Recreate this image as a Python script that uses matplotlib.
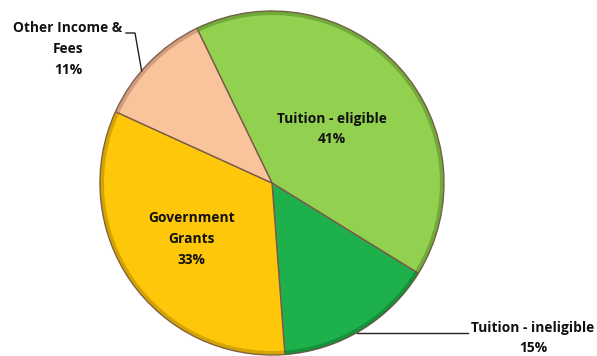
import numpy as np
import matplotlib.pyplot as plt

# revenue split, clockwise from the top-left
labels = ["Tuition - eligible", "Tuition - ineligible", "Government\nGrants", "Other Income &\nFees"]
shares = [41, 15, 33, 11]
colors = ["#92D050", "#1EB14B", "#FFC709", "#F9C49C"]
edges = ["#4E7A22", "#0E6A2A", "#A07A00", "#A0705A"]

W, H = 597, 356
cx, cy, R = 272, 173, 172
start = 115.9

fig = plt.figure(figsize=(W/100, H/100), dpi=100)
ax = fig.add_axes([0, 0, 1, 1])

wedges, _ = ax.pie(shares, colors=colors, startangle=start, counterclock=False,
                   radius=R, center=(cx, cy), frame=True,
                   wedgeprops=dict(linewidth=1.0, edgecolor="#7A5A4A"))

# darker rim for the bevelled look
for w, ec in zip(wedges, edges):
    ax.add_patch(plt.matplotlib.patches.Wedge((cx, cy), R, w.theta1, w.theta2,
                                              width=4, facecolor=ec, alpha=0.45,
                                              edgecolor="none"))

font = dict(family=["Open Sans", "DejaVu Sans"], fontweight="bold", fontsize=9.9,
            color="#111111", ha="center", va="center", linespacing=1.6)

# labels inside the slices
def mid(w):
    return np.deg2rad((w.theta1 + w.theta2) / 2)

for i, frac in [(0, 0.47), (2, 0.57)]:
    a = mid(wedges[i])
    ax.text(cx + frac*R*np.cos(a), cy + frac*R*np.sin(a),
            f"{labels[i]}\n{shares[i]}%", **font)

# outside labels with leader lines
a = np.deg2rad(139.3)
x0, y0 = cx + R*np.cos(a), cy + R*np.sin(a)
ax.plot([x0, 135, 126], [y0, 323, 323], color="#222222", lw=1.0)
ax.text(68, 307, f"{labels[3]}\n{shares[3]}%", **font)

a = np.deg2rad(-60.5)
x0, y0 = cx + R*np.cos(a), cy + R*np.sin(a)
ax.plot([x0, 468], [y0, y0], color="#222222", lw=1.0)
ax.text(533, 18, f"{labels[1]}\n{shares[1]}%", **font)

ax.set_xlim(0, W)
ax.set_ylim(0, H)
ax.set_aspect("equal")
ax.axis("off")

fig.savefig("out.png", dpi=100)
